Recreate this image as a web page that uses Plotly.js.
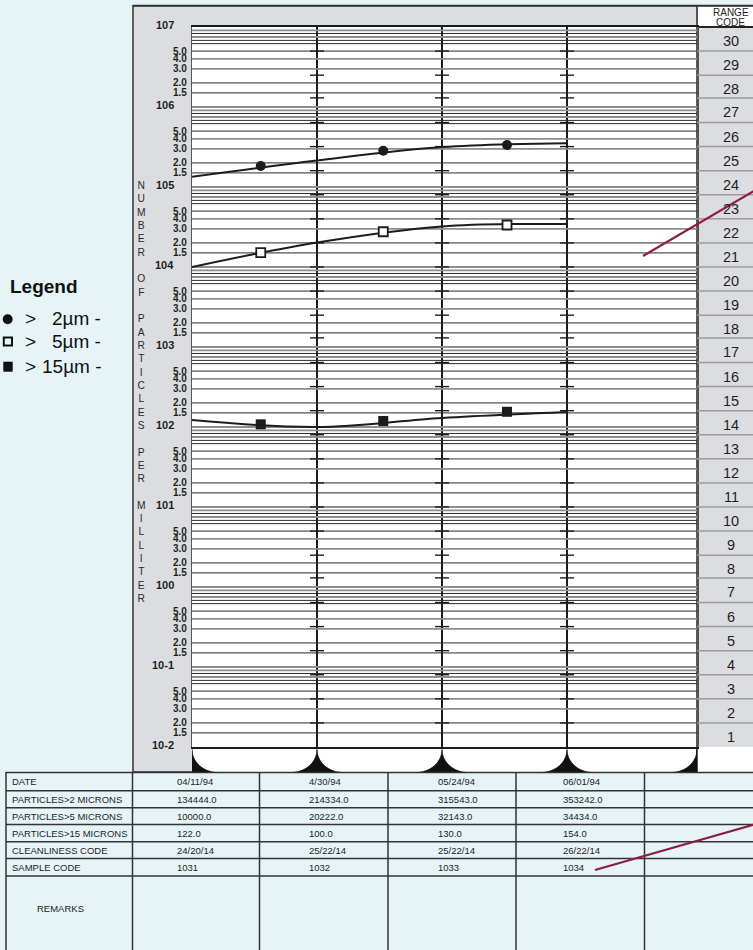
<!DOCTYPE html>
<html>
<head>
<meta charset="utf-8">
<script src="https://cdn.plot.ly/plotly-3.0.1.min.js"></script>
<style>
html,body{margin:0;padding:0;background:#e6f4f8;overflow:hidden;}
#chart{width:753px;height:950px;}
</style>
</head>
<body>
<div id="chart"></div>
<script>
// ---------------- DATA ----------------
const dates = ['04/11/94', '4/30/94', '05/24/94', '06/01/94'];
const sampleX = [0, 1, 2, 3];
const over2 = [134444.0, 214334.0, 315543.0, 353242.0];
const over5 = [10000.0, 20222.0, 32143.0, 34434.0];
const over15 = [122.0, 100.0, 130.0, 154.0];
const cleanCodes = ['24/20/14', '25/22/14', '25/22/14', '26/22/14'];
const sampleCodes = ['1031', '1032', '1033', '1034'];

// plotted symbols
const symbolX = [0.55, 1.53, 2.52];
const symbol2 = [183000, 284000, 335000];
const symbol5 = [15100, 27600, 33500];
const symbol15 = [108, 119, 155];

// ISO 4406 range boundaries (particles per ml) and range codes
const rangeBounds = [0.01, 0.02, 0.04, 0.08, 0.16, 0.32, 0.64, 1.3, 2.5, 5, 10, 20, 40, 80, 160, 320, 640,
  1300, 2500, 5000, 10000, 20000, 40000, 80000, 160000, 320000, 640000, 1300000, 2500000, 5000000, 10000000];
const rangeCodes = [1, 2, 3, 4, 5, 6, 7, 8, 9, 10, 11, 12, 13, 14, 15, 16, 17, 18, 19, 20,
  21, 22, 23, 24, 25, 26, 27, 28, 29, 30];

// axis labels
const decadeExps = [7, 6, 5, 4, 3, 2, 1, 0, -1, -2];
const decadeLabels = ['107', '106', '105', '104', '103', '102', '101', '100', '10-1', '10-2'];
const minorMant = [5, 4, 3, 2, 1.5];
const minorLabels = ['5.0', '4.0', '3.0', '2.0', '1.5'];
const gridDark = [1.5, 2, 5, 6.2, 6.8, 8.3];
const gridGray = [1, 3, 4, 7.5, 9.1];
const axisTitle = 'NUMBER OF PARTICLES PER MILLITER';

// legend and table labels
const legendTitle = 'Legend';
const legendNames = ['2µm -', '5µm -', '15µm -'];
const rowLabels = ['DATE', 'PARTICLES>2 MICRONS', 'PARTICLES>5 MICRONS', 'PARTICLES>15 MICRONS',
  'CLEANLINESS CODE', 'SAMPLE CODE'];
const remarksLabel = 'REMARKS';

// ---------------- LAYOUT HELPERS ----------------
const W = 753, H = 950;
const px = x => x / W;
const py = y => 1 - y / H;
const FONT = 'Liberation Sans, Arial, Helvetica, sans-serif';
const PLOT = {l: 192, r: 697, t: 27, b: 747};
const xRange = [0, 4.04];
const unitPx = (PLOT.r - PLOT.l) / (xRange[1] - xRange[0]);
const INK = '#1c1c1c';
const PANEL = '#dcdde0';

function hLines(vals, x0, x1) {
  const xs = [], ys = [];
  vals.forEach(v => { xs.push(x0, x1, null); ys.push(v, v, null); });
  return {xs, ys};
}
function expand(mants) {
  const out = [];
  for (let n = -2; n <= 6; n++) mants.forEach(m => {
    const v = m * Math.pow(10, n);
    if (v > 0.0101 && v < 9.9e6) out.push(v);
  });
  return out;
}

// ---------------- TRACES ----------------
const gGray = hLines(expand(gridGray), xRange[0], xRange[1]);
const gDark = hLines(expand(gridDark), xRange[0], xRange[1]);
const innerBounds = rangeBounds.slice(1, -1);
const tickXs = [], tickYs = [];
[1, 2, 3].forEach(x => innerBounds.forEach(v => { tickXs.push(x); tickYs.push(v); }));
const cellB = hLines(innerBounds, 0, 1);

const traces = [
  {x: gGray.xs, y: gGray.ys, mode: 'lines', line: {color: '#8d8d8d', width: 1.8}, hoverinfo: 'skip', showlegend: false},
  {x: gDark.xs, y: gDark.ys, mode: 'lines', line: {color: '#2a2a2a', width: 1}, hoverinfo: 'skip', showlegend: false},
  {x: tickXs, y: tickYs, mode: 'markers', marker: {symbol: 'line-ew', size: 10, line: {color: INK, width: 1.4}}, hoverinfo: 'skip', showlegend: false},
  {x: cellB.xs, y: cellB.ys, xaxis: 'x3', yaxis: 'y', mode: 'lines', line: {color: '#9c9c9c', width: 1.5}, hoverinfo: 'skip', showlegend: false},
  {x: sampleX, y: over2, mode: 'lines', line: {shape: 'spline', color: INK, width: 2}, name: '> 2µm', showlegend: false, text: dates},
  {x: sampleX, y: over5, mode: 'lines', line: {shape: 'spline', color: INK, width: 2}, name: '> 5µm', showlegend: false, text: dates},
  {x: sampleX, y: over15, mode: 'lines', line: {shape: 'spline', color: INK, width: 2}, name: '> 15µm', showlegend: false, text: dates},
  {x: symbolX, y: symbol2, mode: 'markers', marker: {symbol: 'circle', size: 10, color: INK}, showlegend: false},
  {x: symbolX, y: symbol5, mode: 'markers', marker: {symbol: 'square', size: 9, color: '#ffffff', line: {color: INK, width: 1.8}}, showlegend: false},
  {x: symbolX, y: symbol15, mode: 'markers', marker: {symbol: 'square', size: 10, color: INK}, showlegend: false}
];

// ---------------- SHAPES ----------------
const shapes = [];
function rect(x0, y0, x1, y1, fill, line, layer) {
  shapes.push({type: 'rect', xref: 'paper', yref: 'paper', x0: px(x0), x1: px(x1), y0: py(y0), y1: py(y1),
    fillcolor: fill, line: line || {width: 0}, layer: layer || 'below'});
}
function seg(x0, y0, x1, y1, color, width, layer) {
  shapes.push({type: 'line', xref: 'paper', yref: 'paper', x0: px(x0), x1: px(x1), y0: py(y0), y1: py(y1),
    line: {color: color, width: width}, layer: layer || 'below'});
}
// gray panel
rect(133, 5.5, 770, 772, PANEL, {color: '#333', width: 1.5});
// white chart body and bottom strip
rect(PLOT.l, PLOT.t, PLOT.r, 772, '#ffffff');
rect(PLOT.r, PLOT.b, 770, 772, '#ffffff');
// range header (white) and column (gray)
rect(PLOT.r, 6.5, 770, PLOT.t, '#ffffff');
rect(PLOT.r, PLOT.t, 770, PLOT.b, PANEL);
seg(PLOT.r, 6, PLOT.r, 772, '#222', 1.5);
seg(PLOT.r, PLOT.t, 770, PLOT.t, '#222', 2);
seg(133, 6, 770, 6, '#333', 1.5);
// scalloped bottom edge (cusps at every vertical line)
const cuspRx = 26, cuspRy = 23, k = 0.5523, cuspBase = 772.5;
const rx = cuspRx / unitPx;
[0, 1, 2, 3, xRange[1]].forEach(v => {
  const yb = py(cuspBase), yc = py(cuspBase - cuspRy + k * cuspRy), yp = py(cuspBase - cuspRy);
  const path = `M ${v - rx},${yb} C ${v - rx + k * rx},${yb} ${v},${yc} ${v},${yp} ` +
               `C ${v},${yc} ${v + rx - k * rx},${yb} ${v + rx},${yb} Z`;
  shapes.push({type: 'path', xref: 'x', yref: 'paper', path: path, fillcolor: '#111', line: {color: '#111', width: 0.8}, layer: 'below'});
});
// table grid
const colX = [6, 132.5, 259.5, 388, 516, 644.5];
const rowY = [772.5, 790.7, 807.7, 824.5, 841.7, 858.5, 876];
rowY.forEach(y => seg(6, y, 770, y, '#333', 1.4, 'above'));
colX.forEach(x => seg(x, 772, x, 960, '#333', 1.5, 'above'));
// legend symbols
shapes.push({type: 'circle', xref: 'paper', yref: 'paper', x0: px(2.7), x1: px(12.7), y0: py(314.3), y1: py(324.3), fillcolor: '#111', line: {width: 0}});
rect(3.8, 337.5, 12, 345.5, 'rgba(0,0,0,0)', {color: '#111', width: 2}, 'above');
rect(3.3, 361.7, 12.7, 371.7, '#111', {width: 0}, 'above');
// red annotation lines
seg(643, 256, 765, 184.5, '#8e1b40', 2.2, 'above');
seg(595, 870, 765, 821.5, '#8e1b40', 2.2, 'above');

// ---------------- ANNOTATIONS ----------------
const ann = [];
function A(o) { ann.push(Object.assign({showarrow: false, xref: 'paper', yref: 'paper', borderpad: 0}, o)); }
const f = (size, bold, color) => ({family: FONT, size: size, color: color || '#1e1e1e', weight: bold ? 'bold' : 'normal'});

// decade labels
decadeExps.forEach((e, i) => A({text: decadeLabels[i], x: px(175), xanchor: 'right', yref: 'y', y: e, yanchor: 'middle', yshift: 2, font: f(11, true)}));
// in-decade labels
for (let n = -2; n <= 6; n++) minorMant.forEach((m, j) =>
  A({text: minorLabels[j], x: px(188), xanchor: 'right', yref: 'y', y: Math.log10(m) + n, yanchor: 'middle', font: f(10, true)}));
// stacked axis title
A({text: axisTitle.split('').map(c => c === ' ' ? '\u00a0' : c).join('<br>'), x: px(141.5), xanchor: 'center',
   y: py(178.5), yanchor: 'top', align: 'center', font: f(10.25, false, '#2a2a2a')});
// range code column
A({text: 'RANGE', x: px(730.5), xanchor: 'center', y: py(12.5), yanchor: 'middle', font: f(10)});
A({text: 'CODE', x: px(730.5), xanchor: 'center', y: py(22), yanchor: 'middle', font: f(10)});
rangeCodes.forEach((c, i) => A({text: String(c), x: px(731), xanchor: 'center', yref: 'y',
   y: Math.log10(Math.sqrt(rangeBounds[i] * rangeBounds[i + 1])), yanchor: 'middle', yshift: -2, font: f(14.5)}));
// legend
A({text: legendTitle, x: px(9), xanchor: 'left', y: py(287), yanchor: 'middle', font: f(19, true, '#111')});
const legY = [318.5, 341.5, 366];
const legX = [50.5, 50.5, 40.5];
legendNames.forEach((nm, i) => {
  A({text: '&gt;', x: px(23.5), xanchor: 'left', y: py(legY[i]), yanchor: 'middle', font: f(19, false, '#111')});
  A({text: nm, x: px(legX[i]), xanchor: 'left', y: py(legY[i]), yanchor: 'middle', font: f(19, false, '#111')});
});
// table text
const tableVals = [dates, over2.map(v => v.toFixed(1)), over5.map(v => v.toFixed(1)),
  over15.map(v => v.toFixed(1)), cleanCodes, sampleCodes];
const valX = [175.5, 307.5, 437, 562];
rowLabels.forEach((lab, r) => {
  const yc = (rowY[r] + rowY[r + 1]) / 2;
  A({text: lab.replace(/>/g, '&gt;'), x: px(11), xanchor: 'left', y: py(yc), yanchor: 'middle', font: f(9.5)});
  tableVals[r].forEach((v, c) => A({text: v, x: px(valX[c]), xanchor: 'left', y: py(yc), yanchor: 'middle', font: f(9.5)}));
});
A({text: remarksLabel, x: px(35.5), xanchor: 'left', y: py(908), yanchor: 'middle', font: f(9.5)});

// ---------------- LAYOUT ----------------
const layout = {
  width: W, height: H,
  margin: {l: 0, r: 0, t: 0, b: 0, pad: 0},
  paper_bgcolor: '#e6f4f8',
  plot_bgcolor: 'rgba(0,0,0,0)',
  showlegend: false,
  xaxis: {domain: [px(PLOT.l), px(PLOT.r)], range: xRange, tickmode: 'array', tickvals: [1, 2, 3],
    showgrid: true, gridcolor: INK, gridwidth: 1.1, showticklabels: false, ticks: '', zeroline: false,
    showline: true, mirror: true, linecolor: INK, linewidth: 2, fixedrange: true, anchor: 'y'},
  yaxis: {type: 'log', domain: [py(PLOT.b), py(PLOT.t)], range: [-2, 7], showgrid: false, showticklabels: false,
    ticks: '', zeroline: false, showline: true, mirror: true, linecolor: '#555', linewidth: 1.5, fixedrange: true, anchor: 'x'},
  xaxis3: {domain: [px(PLOT.r), 1], range: [0, 1], anchor: 'y', visible: false, showgrid: false, fixedrange: true},
  shapes: shapes,
  annotations: ann
};

Plotly.newPlot('chart', traces, layout, {staticPlot: true, displayModeBar: false});
</script>
</body>
</html>
